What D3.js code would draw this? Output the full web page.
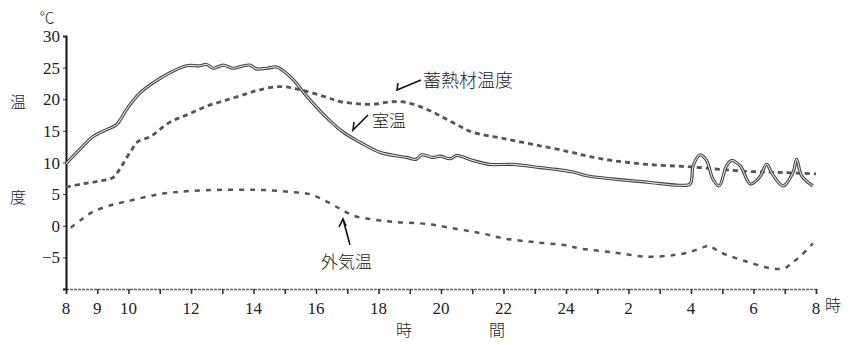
<!DOCTYPE html>
<html>
<head>
<meta charset="utf-8">
<script src="https://cdn.jsdelivr.net/npm/d3@7"></script>
<style>
  body { margin: 0; background: #fff; }
  svg { display: block; }
  .num { font-family: 'Liberation Serif', 'DejaVu Serif', 'Times New Roman', Times, serif; }
</style>
</head>
<body>
<div class="chart"></div>
<script>
// hours counted from 8:00 (0) to 8:00 next day (24)
const hourTicks = d3.range(0, 25);
const hourLabels = [0, 1, 2, 4, 6, 8, 10, 12, 14, 16, 18, 20, 22, 24];
const tempTicks = [-5, 0, 5, 10, 15, 20, 25, 30];

// 室温
const roomHours = [0, 0.45, 0.87, 1.3, 1.62, 1.78, 1.94, 2.37, 2.79, 3.33, 3.86, 4.29, 4.5, 4.71, 5.03, 5.35, 5.62, 5.89, 6.1, 6.42, 6.74, 6.95,
  7.27, 7.7, 8.34, 8.87, 9.41, 10.05, 10.9, 11.2, 11.38, 11.75, 11.97, 12.3, 12.5, 13.03, 13.57, 14.3, 15.17, 15.7, 16.23, 16.66,
  17.5, 18.58, 19.65, 19.97, 20.07, 20.29, 20.5, 20.7, 20.9, 21.14, 21.3, 21.57, 21.9, 22.2, 22.42, 22.6, 22.95, 23.27, 23.38, 23.54, 23.9];
const roomTemp = [9.8, 12.1, 14.1, 15.2, 16, 17.1, 18.4, 21, 22.6, 24.2, 25.3, 25.3, 25.5, 24.9, 25.4, 24.9, 25.2, 25.4, 24.8, 24.9, 25.1, 24.5,
  23.1, 20.5, 17.1, 14.8, 13.2, 11.6, 10.8, 10.5, 11.2, 10.8, 11, 10.6, 11.1, 10.3, 9.7, 9.7, 9.2, 8.9, 8.5, 7.9,
  7.4, 6.9, 6.4, 6.6, 9.5, 11.2, 10.3, 7.4, 6.3, 9.5, 10.3, 9.5, 6.6, 7.7, 9.7, 8.2, 6.3, 8.5, 10.5, 7.9, 6.3];

// 蓄熱材温度
const storeHours = [0, 0.5, 1.0, 1.5, 1.7, 1.85, 2.1, 2.3, 2.7, 3.3, 3.9, 4.5, 5.15, 5.8, 6.2, 6.85, 7.5, 8.35, 8.8, 9.8, 10.4, 10.9,
  11.5, 12, 12.5, 13, 14.1, 15.2, 16.1, 16.7, 17.5, 18.6, 20, 21.8, 23, 24];
const storeTemp = [6.1, 6.6, 7.0, 7.6, 8.8, 10, 12, 13.3, 14.1, 16.3, 17.6, 18.9, 19.9, 20.9, 21.5, 22, 21.5, 20.3, 19.6, 19.2, 19.6, 19.5,
  18.5, 17.3, 16, 14.8, 13.7, 12.6, 11.7, 11, 10.3, 9.7, 9.3, 8.6, 8.4, 8.2];

// 外気温
const outHours = [0.15, 0.5, 0.86, 1.4, 1.9, 3, 4, 5.6, 6.5, 7.25, 7.8, 8.35, 8.8, 9.2, 9.8, 10.5, 11.5, 12.5, 13.3, 14, 15, 16, 16.45,
  17.5, 18.6, 19.5, 20, 20.45, 20.6, 20.9, 21.8, 22.65, 23.0, 23.2, 23.5, 23.9];
const outTemp = [-0.3, 1.0, 2.2, 3.2, 3.8, 5.0, 5.5, 5.7, 5.6, 5.3, 5.0, 3.8, 2.6, 1.6, 1.0, 0.6, 0.3, -0.5, -1.2, -2.0, -2.6, -3.1, -3.6,
  -4.2, -4.9, -4.6, -4.1, -3.3, -3.2, -4.1, -5.7, -6.8, -6.7, -6.0, -4.8, -2.8];

const width = 860, height = 345;
const jpFont = '"Noto Sans CJK JP", sans-serif';
const svg = d3.select('.chart').append('svg').attr('width', width).attr('height', height);

const x = d3.scaleLinear().domain([0, 24]).range([66, 816]);
const y = d3.scaleLinear().domain([-10, 30]).range([289, 36]);

function clockLabel(h) {
  const t = 8 + h;
  return t > 24 ? String(t - 24) : String(t);
}

// x axis
const xAxis = svg.append('g')
  .attr('transform', 'translate(0,' + y(-10) + ')')
  .call(d3.axisBottom(x).tickValues(hourTicks).tickSize(5).tickFormat(''));
xAxis.select('.domain').attr('stroke', '#666').attr('stroke-width', 1.6).attr('stroke-dasharray', '3,1');
xAxis.selectAll('.tick line').attr('stroke', '#333').attr('stroke-width', 1.6);

svg.selectAll('.xlab')
  .data(hourLabels)
  .enter().append('text')
  .attr('class', 'num').style('font-size', '17px').attr('fill', '#222')
  .attr('x', function (d) { return x(d); })
  .attr('y', 314)
  .attr('text-anchor', 'middle')
  .text(clockLabel);

// y axis
const yAxis = svg.append('g')
  .attr('transform', 'translate(' + x(0) + ',0)')
  .call(d3.axisLeft(y).tickValues(tempTicks).tickSize(3).tickFormat(''));
yAxis.select('.domain').attr('stroke', '#111').attr('stroke-width', 2);
yAxis.selectAll('.tick line').attr('stroke', '#333');

svg.selectAll('.ylab')
  .data(tempTicks)
  .enter().append('text')
  .attr('class', 'num').style('font-size', '17px').attr('fill', '#222')
  .attr('x', 60)
  .attr('y', function (d) { return y(d) + 6; })
  .attr('text-anchor', 'end')
  .text(function (d) { return d < 0 ? '\u2212' + (-d) : d; });

// axis titles
function jp(tx, ty, size, s, anchor) {
  svg.append('text').attr('font-family', jpFont).attr('font-weight', 300).attr('fill', '#222')
    .attr('x', tx).attr('y', ty).attr('font-size', size).attr('text-anchor', anchor || 'middle').text(s);
}
jp(47, 23, 15, '℃');
jp(18, 108, 16, '温');
jp(18, 203, 16, '度');
jp(833, 311, 16, '時');
jp(404, 336, 16, '時');
jp(497, 336, 16, '間');

// lines
const line = d3.line()
  .x(function (d) { return x(d[0]); })
  .y(function (d) { return y(d[1]); })
  .curve(d3.curveCatmullRom.alpha(0.5));

function pairs(hs, vs) { return hs.map(function (h, i) { return [h, vs[i]]; }); }

// storage material: dotted hollow dashes
svg.append('path').attr('d', line(pairs(storeHours, storeTemp)))
  .attr('fill', 'none').attr('stroke', '#555').attr('stroke-width', 2.8).attr('stroke-dasharray', '5,4');

// outside air: dashed
svg.append('path').attr('d', line(pairs(outHours, outTemp)))
  .attr('fill', 'none').attr('stroke', '#555').attr('stroke-width', 2.5).attr('stroke-dasharray', '5,6');

// room: double solid line
const roomD = line(pairs(roomHours, roomTemp));
svg.append('path').attr('d', roomD).attr('fill', 'none').attr('stroke', '#444').attr('stroke-width', 3.2);
svg.append('path').attr('d', roomD).attr('fill', 'none').attr('stroke', '#ddd').attr('stroke-width', 1.1);

// annotations
const ann = svg.append('g').attr('fill', 'none').attr('stroke', '#111').attr('stroke-width', 1.6);
ann.append('path').attr('d', 'M421,80 L397,90 L398,83');
ann.append('path').attr('d', 'M368,115 L353,130 L354,122');
ann.append('path').attr('d', 'M350,245 L343,219 M339,227 L343,219 L346,226');

jp(423, 87, 18, '蓄熱材温度', 'start');
jp(372, 127, 17, '室温', 'start');
jp(321, 268, 17, '外気温', 'start');
</script>
</body>
</html>
